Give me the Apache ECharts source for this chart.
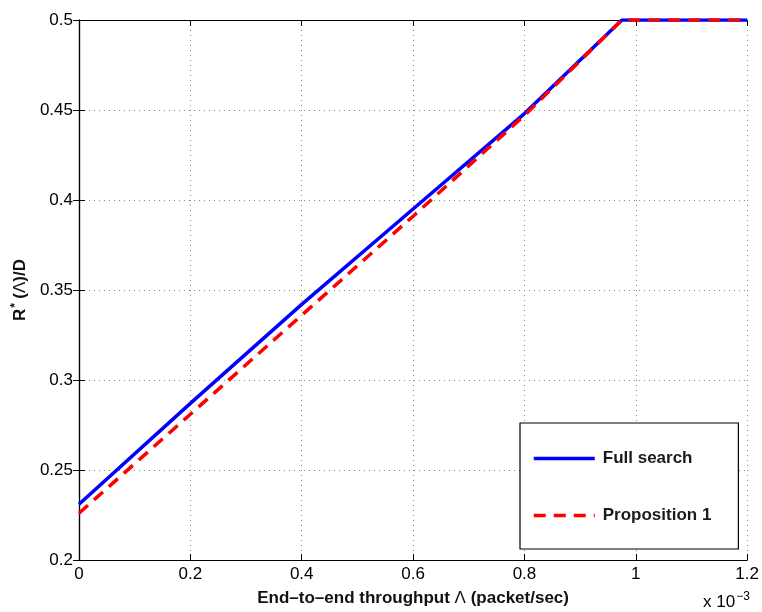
<!DOCTYPE html>
<html>
<head>
  <meta charset="utf-8">
</head>
<body style="margin: 0; background: #fff">
  <div id="container" style="width: 762px; height: 612px"></div>
  <script type="text/javascript" src="https://fastly.jsdelivr.net/npm/echarts@6.0.0/dist/echarts.min.js"></script>
  <script type="text/javascript">
    // throughput (x 10^-3 packet/sec)
    var xFull = [0, 0.2, 0.4, 0.6, 0.8, 0.975, 1.2];
    var yFull = [0.231, 0.287, 0.342, 0.395, 0.448, 0.5, 0.5];
    var xProp = [0, 0.2, 0.4, 0.6, 0.8, 0.975, 1.2];
    var yProp = [0.226, 0.281, 0.336, 0.391, 0.447, 0.5, 0.5];

    function pairs(xs, ys) {
      return xs.map(function (x, i) { return [x, ys[i]]; });
    }

    var font = 'Liberation Sans, Arial, Helvetica, sans-serif';
    var dom = document.getElementById('container');
    var myChart = echarts.init(dom, null, { renderer: 'canvas' });

    var gridLine = { show: true, lineStyle: { color: '#8a8a8a', type: [1, 4], width: 1 } };
    var frameAxis = { show: true, lineStyle: { color: '#000', width: 1.2 } };
    var frameTick = { show: true, inside: true, length: 6, lineStyle: { color: '#000' } };

    var option = {
      animation: false,
      grid: { left: 79, right: 13, top: 20, bottom: 52 },
      xAxis: [
        {
          type: 'value', min: 0, max: 1.2, interval: 0.2,
          axisLine: frameAxis, axisTick: frameTick, splitLine: gridLine,
          axisLabel: { color: '#000', fontSize: 17, fontFamily: font, margin: 6 },
          name: 'End\u2013to\u2013end throughput {n|\u039b} (packet/sec)',
          nameLocation: 'middle', nameGap: 30,
          nameTextStyle: {
            color: '#111', fontSize: 17, fontWeight: 'bold', fontFamily: font,
            rich: { n: { fontSize: 17, fontWeight: 'normal', fontFamily: font, color: '#111' } }
          }
        },
        {
          type: 'value', position: 'top', min: 0, max: 1.2, interval: 0.2,
          axisLine: frameAxis, axisTick: frameTick, splitLine: { show: false },
          axisLabel: { show: false }
        }
      ],
      yAxis: [
        {
          type: 'value', min: 0.2, max: 0.5, interval: 0.05,
          axisLine: frameAxis, axisTick: frameTick, splitLine: gridLine,
          axisLabel: { color: '#000', fontSize: 17, fontFamily: font, margin: 6 },
          name: 'R{sup|*}\u2009({n|\u039b})/D',
          nameLocation: 'middle', nameGap: 49,
          nameTextStyle: {
            color: '#111', fontSize: 17, fontWeight: 'bold', fontFamily: font,
            rich: {
              sup: { fontSize: 12, fontWeight: 'bold', fontFamily: font, color: '#111', verticalAlign: 'top', padding: [0, 1, 8, 1] },
              n: { fontSize: 17, fontWeight: 'normal', fontFamily: font, color: '#111' }
            }
          }
        },
        {
          type: 'value', position: 'right', min: 0.2, max: 0.5, interval: 0.05,
          axisLine: frameAxis, axisTick: frameTick, splitLine: { show: false },
          axisLabel: { show: false }
        }
      ],
      legend: {
        orient: 'vertical',
        left: 520, top: 423,
        padding: [27, 27, 25, 12],
        itemGap: 40,
        itemWidth: 61, itemHeight: 14,
        itemStyle: { opacity: 0 },
        lineStyle: { width: 3.5 },
        backgroundColor: '#fff',
        borderColor: '#000', borderWidth: 1.2, borderRadius: 0,
        textStyle: { color: '#1a1a1a', fontSize: 17, fontWeight: 'bold', fontFamily: font, padding: [0, 0, 0, 3] },
        data: ['Full search', 'Proposition 1']
      },
      graphic: [
        {
          type: 'text', left: 703, top: 591,
          style: {
            text: 'x 10{sup|\u22123}',
            fill: '#000', font: '17px ' + font,
            rich: { sup: { fontSize: 12, fontFamily: font, fill: '#000', verticalAlign: 'top', padding: [0, 0, 10, 1] } }
          }
        }
      ],
      series: [
        {
          name: 'Full search', type: 'line', symbol: 'none',
          data: pairs(xFull, yFull),
          lineStyle: { color: '#0000ff', width: 3.5 },
          itemStyle: { color: '#0000ff' },
          z: 3
        },
        {
          name: 'Proposition 1', type: 'line', symbol: 'none',
          data: pairs(xProp, yProp),
          lineStyle: { color: '#ff0000', width: 3.5, type: [12, 8] },
          itemStyle: { color: '#ff0000' },
          z: 4
        }
      ]
    };

    myChart.setOption(option);
    window.addEventListener('resize', myChart.resize);
  </script>
</body>
</html>
